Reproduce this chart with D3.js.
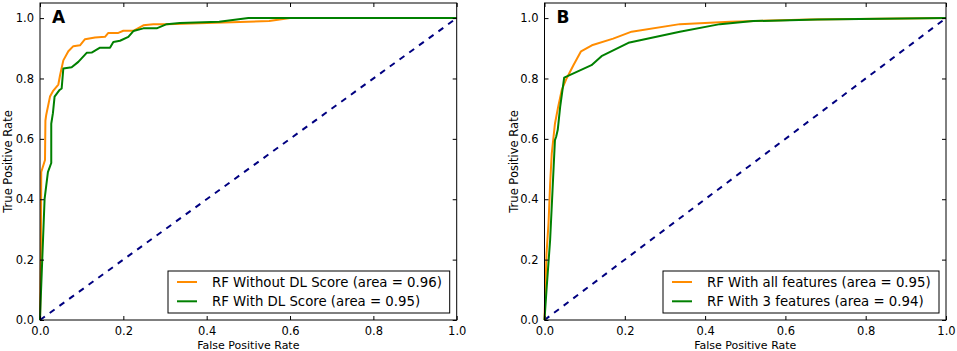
<!DOCTYPE html>
<html>
<head>
<meta charset="utf-8">
<script src="https://cdn.jsdelivr.net/npm/d3@7"></script>
<style>
  body { margin: 0; background: #fff; }
  svg { display: block; font-family: "DejaVu Sans", sans-serif; }
</style>
</head>
<body>
<svg id="chart" width="957" height="351"></svg>
<script>
// panel A: RF with / without DL score
const fprA_noDL = [0, 0.002, 0.003, 0.012, 0.013, 0.015, 0.024, 0.032, 0.044, 0.048, 0.056, 0.068, 0.08, 0.096, 0.108, 0.132, 0.156, 0.164, 0.188, 0.2, 0.224, 0.248, 0.272, 0.304, 0.44, 0.55, 0.6, 1.0];
const tprA_noDL = [0, 0.2, 0.49, 0.53, 0.66, 0.68, 0.74, 0.76, 0.78, 0.81, 0.86, 0.89, 0.907, 0.91, 0.93, 0.936, 0.938, 0.951, 0.951, 0.958, 0.958, 0.976, 0.98, 0.98, 0.985, 0.99, 1.0, 1.0];
const fprA_DL = [0, 0.002, 0.011, 0.019, 0.027, 0.027, 0.031, 0.035, 0.047, 0.052, 0.056, 0.076, 0.092, 0.112, 0.124, 0.144, 0.168, 0.176, 0.192, 0.212, 0.224, 0.248, 0.28, 0.304, 0.336, 0.43, 0.5, 1.0];
const tprA_DL = [0, 0.08, 0.40, 0.49, 0.52, 0.65, 0.685, 0.74, 0.762, 0.767, 0.833, 0.837, 0.855, 0.885, 0.886, 0.902, 0.902, 0.921, 0.925, 0.938, 0.957, 0.966, 0.966, 0.98, 0.984, 0.988, 1.0, 1.0];

// panel B: all features / 3 features
const fprB_all = [0, 0.005, 0.01, 0.014, 0.018, 0.026, 0.034, 0.043, 0.055, 0.072, 0.091, 0.118, 0.171, 0.217, 0.337, 0.462, 0.66, 1.0];
const tprB_all = [0, 0.22, 0.32, 0.45, 0.55, 0.65, 0.706, 0.762, 0.80, 0.844, 0.89, 0.91, 0.932, 0.955, 0.98, 0.988, 0.995, 1.0];
const fprB_3 = [0, 0.005, 0.014, 0.02, 0.026, 0.029, 0.033, 0.039, 0.049, 0.117, 0.142, 0.209, 0.337, 0.437, 0.52, 0.68, 1.0];
const tprB_3 = [0, 0.1, 0.265, 0.43, 0.596, 0.607, 0.63, 0.706, 0.803, 0.844, 0.874, 0.918, 0.955, 0.98, 0.99, 0.995, 1.0];

const tickValues = [0, 0.2, 0.4, 0.6, 0.8, 1.0];
const legendA = ["RF Without DL Score (area = 0.96)", "RF With DL Score (area = 0.95)"];
const legendB = ["RF With all features (area = 0.95)", "RF With 3 features (area = 0.94)"];

const svg = d3.select("#chart");

function zip(xs, ys) { return xs.map((x, i) => [x, ys[i]]); }

function drawPanel(cfg) {
  let x = d3.scaleLinear().domain([0, 1]).range([cfg.left, cfg.right]);
  let y = d3.scaleLinear().domain([0, 1.05]).range([320, 3]);
  let g = svg.append("g");

  // chance line
  g.append("path")
    .datum([[0, 0], [1, 1]])
    .attr("d", d3.line().x(d => x(d[0])).y(d => y(d[1])))
    .attr("fill", "none").attr("stroke", "#000080")
    .attr("stroke-width", 2).attr("stroke-dasharray", "6,6");

  let line = d3.line().x(d => x(d[0])).y(d => y(d[1]));
  cfg.series.forEach(s => {
    g.append("path")
      .datum(zip(s.fpr, s.tpr))
      .attr("d", line)
      .attr("fill", "none").attr("stroke", s.color)
      .attr("stroke-width", 2).attr("stroke-linejoin", "round");
  });

  // ticks inward on all four sides
  g.append("g").attr("transform", `translate(0,${y(0)})`)
    .call(d3.axisBottom(x).tickValues(tickValues).tickSizeInner(-4).tickSizeOuter(0).tickPadding(7).tickFormat(d3.format(".1f")));
  g.append("g").attr("transform", `translate(0,${y(1.05)})`)
    .call(d3.axisTop(x).tickValues(tickValues).tickSizeInner(-4).tickSizeOuter(0).tickFormat(""));
  g.append("g").attr("transform", `translate(${x(0)},0)`)
    .call(d3.axisLeft(y).tickValues(tickValues).tickSizeInner(-4).tickSizeOuter(0).tickPadding(6).tickFormat(d3.format(".1f")));
  g.append("g").attr("transform", `translate(${x(1)},0)`)
    .call(d3.axisRight(y).tickValues(tickValues).tickSizeInner(-4).tickSizeOuter(0).tickFormat(""));
  g.selectAll(".tick text").attr("font-size", 11.5).attr("font-family", "DejaVu Sans").attr("fill", "#000");
  g.selectAll(".domain").remove();
  g.selectAll(".tick line").attr("stroke", "#000");

  g.append("rect")
    .attr("x", x(0)).attr("y", y(1.05))
    .attr("width", x(1) - x(0)).attr("height", y(0) - y(1.05))
    .attr("fill", "none").attr("stroke", "#000").attr("stroke-width", 1);

  g.append("text").attr("x", (x(0) + x(1)) / 2).attr("y", 348.5)
    .attr("text-anchor", "middle").attr("font-size", 11).text("False Positive Rate");
  g.append("text")
    .attr("transform", `translate(${cfg.ylabelX},${y(0.525)}) rotate(-90)`)
    .attr("text-anchor", "middle").attr("font-size", 11.5).text("True Positive Rate");

  g.append("text").attr("x", x(0) + 12).attr("y", 23)
    .attr("font-size", 17).attr("font-weight", "bold").text(cfg.label);

  // legend
  let lg = g.append("g");
  lg.append("rect")
    .attr("x", cfg.legendX).attr("y", 271)
    .attr("width", x(1) - 7 - cfg.legendX).attr("height", 42)
    .attr("fill", "#fff").attr("stroke", "#000").attr("stroke-width", 1);
  cfg.series.forEach((s, i) => {
    let ly = 282 + i * 19.3;
    lg.append("line")
      .attr("x1", cfg.legendX + 9).attr("x2", cfg.legendX + 29)
      .attr("y1", ly).attr("y2", ly)
      .attr("stroke", s.color).attr("stroke-width", 2);
    lg.append("text")
      .attr("x", cfg.legendX + 44).attr("y", ly + 4.8)
      .attr("font-size", 13.3).text(cfg.legend[i]);
  });
}

drawPanel({
  left: 40, right: 456.7, ylabelX: 12, label: "A", legendX: 168, legend: legendA,
  series: [
    { fpr: fprA_noDL, tpr: tprA_noDL, color: "#ff8c00" },
    { fpr: fprA_DL, tpr: tprA_DL, color: "#008000" }
  ]
});
drawPanel({
  left: 544.5, right: 946, ylabelX: 518, label: "B", legendX: 663, legend: legendB,
  series: [
    { fpr: fprB_all, tpr: tprB_all, color: "#ff8c00" },
    { fpr: fprB_3, tpr: tprB_3, color: "#008000" }
  ]
});
</script>
</body>
</html>
